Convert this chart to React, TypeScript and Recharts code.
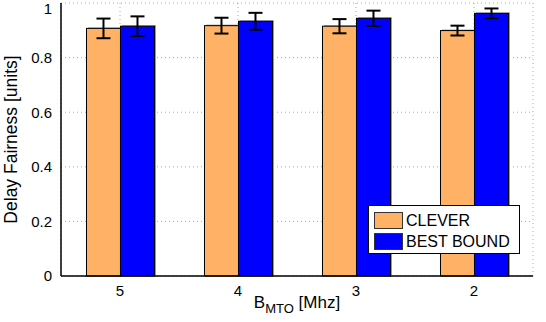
import React from "react";
import { BarChart, Bar, XAxis, YAxis, CartesianGrid, ErrorBar, Legend } from "recharts";

const categories = ["5", "4", "3", "2"];
const cleverValues = [0.907, 0.917, 0.915, 0.899];
const cleverErrors = [0.036, 0.029, 0.026, 0.018];
const bestValues = [0.915, 0.933, 0.944, 0.962];
const bestErrors = [0.036, 0.031, 0.028, 0.018];
const yTicks = [0, 0.2, 0.4, 0.6, 0.8, 1];

const data = categories.map((c, i) => ({
  cat: c,
  clever: cleverValues[i],
  cleverErr: cleverErrors[i],
  best: bestValues[i],
  bestErr: bestErrors[i],
}));

const FONT = "'Liberation Sans', Arial, Helvetica, sans-serif";

const ShadowBar = (props: any) => {
  const { x, y, width, height, fill } = props;
  if (height <= 0) return null;
  return (
    <g>
      <rect x={x + 1.5} y={y - 1} width={width} height={height + 1} fill="#999" />
      <rect x={x} y={y} width={width} height={height} fill={fill} stroke="#000" strokeWidth={1} />
    </g>
  );
};

const fmt = (v: number) => (v === 0 ? "0" : v === 1 ? "1" : String(v));

const XLabel = (props: any) => {
  const vb = props.viewBox || {};
  const cx = vb.x + vb.width / 2;
  return (
    <text x={cx} y={vb.y + 32} textAnchor="middle" fontFamily={FONT} fontSize={17} fill="#000">
      <tspan>B</tspan>
      <tspan fontSize={13} dy={5}>MTO</tspan>
      <tspan dy={-5}> [Mhz]</tspan>
    </text>
  );
};

const LegendContent = () => {
  const items = [
    { label: "CLEVER", color: "#FFB266" },
    { label: "BEST BOUND", color: "#0000FF" },
  ];
  return (
    <div
      style={{
        border: "1px solid #000",
        background: "#fff",
        width: 152,
        height: 49,
        boxSizing: "border-box",
        padding: "4px 0 0 5px",
        fontFamily: FONT,
        fontSize: 16,
        lineHeight: "22px",
      }}
    >
      {items.map((it) => (
        <div key={it.label} style={{ display: "flex", alignItems: "center", height: 21 }}>
          <span
            style={{
              display: "inline-block",
              width: 29,
              height: 17,
              background: it.color,
              border: "1px solid #333",
              boxSizing: "border-box",
              marginRight: 3,
            }}
          />
          <span>{it.label}</span>
        </div>
      ))}
    </div>
  );
};

export default function App() {
  return (
    <div style={{ position: "absolute", left: 0, top: 0, background: "#fff" }}>
      <BarChart
        width={546}
        height={322}
        data={data}
        margin={{ top: 3, right: 13, bottom: 0, left: 0 }}
        barCategoryGap="21.6%"
        barGap={0}
      >
        <CartesianGrid stroke="#aaa" strokeDasharray="1 3" />
        <XAxis
          dataKey="cat"
          height={46}
          tickLine={false}
          axisLine={{ stroke: "#000", strokeWidth: 1.5 }}
          tick={{ fontFamily: FONT, fontSize: 15, fill: "#000" }}
          tickMargin={3}
          label={<XLabel />}
        />
        <XAxis xAxisId="top" orientation="top" dataKey="cat" height={0} tick={false} tickLine={false} axisLine={{ stroke: "#000", strokeWidth: 1.5 }} />
        <YAxis
          width={61}
          domain={[0, 1]}
          ticks={yTicks}
          tickFormatter={fmt}
          tickLine={false}
          axisLine={{ stroke: "#000", strokeWidth: 1.5 }}
          tick={{ fontFamily: FONT, fontSize: 15, fill: "#000" }}
          tickMargin={3}
          label={{
            value: "Delay Fairness [units]",
            angle: -90,
            position: "insideLeft",
            offset: 11,
            style: { textAnchor: "middle", fontFamily: FONT, fontSize: 17.5, fill: "#000" },
          }}
        />
        <YAxis yAxisId="right" orientation="right" width={0} domain={[0, 1]} tick={false} tickLine={false} axisLine={{ stroke: "#000", strokeWidth: 1.5 }} />
        <Legend
          layout="horizontal"
          verticalAlign="middle"
          align="center"
          wrapperStyle={{ left: 368, top: 205, width: 152, height: 49 }}
          content={<LegendContent />}
        />
        <Bar dataKey="clever" name="CLEVER" fill="#FFB266" shape={<ShadowBar />} isAnimationActive={false}>
          <ErrorBar dataKey="cleverErr" width={7} strokeWidth={2} stroke="#000" direction="y" />
        </Bar>
        <Bar dataKey="best" name="BEST BOUND" fill="#0000FF" shape={<ShadowBar />} isAnimationActive={false}>
          <ErrorBar dataKey="bestErr" width={7} strokeWidth={2} stroke="#000" direction="y" />
        </Bar>
      </BarChart>
    </div>
  );
}
